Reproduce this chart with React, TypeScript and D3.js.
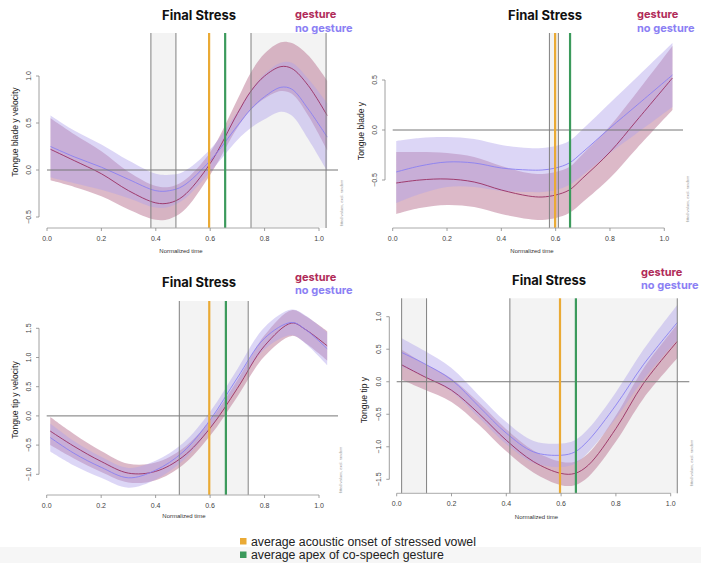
import React from "react";
import * as d3 from "d3";

// ---------- DATA ----------
const X_TICKS = [0, 0.2, 0.4, 0.6, 0.8, 1.0];

// Panel 1: Tongue blade y velocity
const P1_T = [0.013, 0.1, 0.2, 0.3, 0.4, 0.45, 0.5, 0.6, 0.7, 0.75, 0.8, 0.86, 0.9, 0.96, 1.03];
const P1_G_MEAN = [0.22, 0.1, -0.04, -0.22, -0.35, -0.35, -0.28, 0.07, 0.6, 0.84, 1.0, 1.1, 1.08, 0.9, 0.58];
const P1_G_HALF = [0.33, 0.28, 0.24, 0.2, 0.18, 0.17, 0.16, 0.12, 0.15, 0.2, 0.24, 0.26, 0.27, 0.32, 0.37];
const P1_NG_MEAN = [0.25, 0.14, 0.03, -0.1, -0.22, -0.22, -0.17, 0.1, 0.47, 0.65, 0.78, 0.88, 0.86, 0.65, 0.35];
const P1_NG_HALF = [0.33, 0.28, 0.24, 0.2, 0.18, 0.17, 0.15, 0.12, 0.15, 0.2, 0.24, 0.26, 0.28, 0.32, 0.36];
const P1_Y_TICKS = [-0.5, 0.0, 0.5, 1.0];
const P1_BOUNDS = [0.382, 0.474, 0.75, 1.026];
const P1_SHADES = [[0.382, 0.474], [0.75, 1.026]];
const P1_ONSET = 0.596;
const P1_APEX = 0.655;

// Panel 2: Tongue blade y
const P2_T = [0.013, 0.1, 0.2, 0.3, 0.4, 0.5, 0.55, 0.6, 0.65, 0.7, 0.8, 0.9, 1.03];
const P2_G_MEAN = [-0.53, -0.5, -0.49, -0.52, -0.6, -0.66, -0.67, -0.65, -0.6, -0.48, -0.22, 0.1, 0.52];
const P2_G_HALF = [0.31, 0.28, 0.26, 0.25, 0.24, 0.23, 0.23, 0.23, 0.23, 0.24, 0.26, 0.28, 0.32];
const P2_NG_MEAN = [-0.42, -0.36, -0.32, -0.33, -0.38, -0.4, -0.4, -0.38, -0.33, -0.22, 0.02, 0.25, 0.55];
const P2_NG_HALF = [0.31, 0.28, 0.25, 0.24, 0.23, 0.22, 0.22, 0.22, 0.22, 0.23, 0.25, 0.28, 0.32];
const P2_Y_TICKS = [-0.5, 0.0, 0.5];
const P2_BOUNDS = [0.577, 0.61];
const P2_SHADES = [[0.577, 0.61]];
const P2_ONSET = 0.598;
const P2_APEX = 0.653;

// Panel 3: Tongue tip y velocity
const P3_T = [0.013, 0.1, 0.2, 0.3, 0.4, 0.5, 0.6, 0.7, 0.8, 0.9, 0.95, 1.03];
const P3_G_MEAN = [-0.26, -0.52, -0.78, -0.98, -0.95, -0.7, -0.21, 0.47, 1.2, 1.59, 1.48, 1.2];
const P3_G_HALF = [0.24, 0.21, 0.18, 0.16, 0.15, 0.14, 0.13, 0.14, 0.18, 0.22, 0.23, 0.25];
const P3_NG_MEAN = [-0.37, -0.64, -0.88, -1.06, -0.93, -0.62, -0.07, 0.65, 1.33, 1.6, 1.48, 1.15];
const P3_NG_HALF = [0.24, 0.21, 0.18, 0.17, 0.16, 0.15, 0.14, 0.15, 0.19, 0.22, 0.24, 0.28];
const P3_Y_TICKS = [-1.0, -0.5, 0.0, 0.5, 1.0, 1.5];
const P3_BOUNDS = [0.487, 0.74];
const P3_SHADES = [[0.487, 0.74]];
const P3_ONSET = 0.597;
const P3_APEX = 0.658;

// Panel 4: Tongue tip y
const P4_T = [0.018, 0.1, 0.2, 0.3, 0.4, 0.5, 0.6, 0.65, 0.7, 0.8, 0.9, 1.024];
const P4_G_MEAN = [0.26, 0.08, -0.13, -0.49, -0.9, -1.23, -1.41, -1.41, -1.28, -0.72, -0.03, 0.62];
const P4_G_HALF = [0.23, 0.2, 0.18, 0.17, 0.17, 0.17, 0.18, 0.18, 0.18, 0.2, 0.23, 0.26];
const P4_NG_MEAN = [0.45, 0.28, 0.03, -0.38, -0.79, -1.08, -1.13, -1.08, -0.9, -0.36, 0.26, 0.91];
const P4_NG_HALF = [0.22, 0.2, 0.18, 0.17, 0.17, 0.17, 0.18, 0.18, 0.18, 0.2, 0.23, 0.27];
const P4_Y_TICKS = [-1.5, -1.0, -0.5, 0.0, 0.5, 1.0];
const P4_BOUNDS = [0.018, 0.109, 0.413, 1.024];
const P4_SHADES = [[0.018, 0.109], [0.413, 1.024]];
const P4_ONSET = 0.596;
const P4_APEX = 0.654;

const TITLE = "Final Stress";
const SERIES_LABELS = ["gesture", "no gesture"];
const LEGEND_ITEMS = ["average acoustic onset of stressed vowel", "average apex of co-speech gesture"];

// ---------- STYLE ----------
const C_G_FILL = "rgba(185,115,145,0.5)";
const C_NG_FILL = "rgba(173,160,234,0.43)";
const C_G_LINE = "#9a2f62";
const C_NG_LINE = "#8a80f2";
const C_G_LABEL = "#b02a58";
const C_NG_LABEL = "#8b80f4";
const C_ONSET = "#eaaa35";
const C_APEX = "#3c9a5c";
const AXIS_FONT = "'Liberation Sans', Arial, sans-serif";
const HEAD_FONT = "Inter, 'Liberation Sans', sans-serif";

type Layout = {
  x0: number; x1: number; yT0: number; yT1: number; yAxisX: number; xAxisY: number;
  top: number; right: number; ylabX: number; ylabY: number; xlabX: number; xlabY: number;
  titleX: number; titleY: number; legX: number; legY: number; sideX: number; sideY: number;
  tickLabX: number;
};

const PANELS = [
  {
    t: P1_T, gm: P1_G_MEAN, gh: P1_G_HALF, nm: P1_NG_MEAN, nh: P1_NG_HALF, yTicks: P1_Y_TICKS,
    bounds: P1_BOUNDS, shades: P1_SHADES, onset: P1_ONSET, apex: P1_APEX, ylab: "Tongue blade y velocity",
    L: { x0: 47, x1: 319, yT0: 217, yT1: 76, yAxisX: 39, xAxisY: 228, top: 33, right: 338, ylabX: 15, ylabY: 132,
      xlabX: 181, xlabY: 253, titleX: 199, titleY: 20, legX: 295, legY: 18, sideX: 343, sideY: 203, tickLabX: 31 } as Layout,
  },
  {
    t: P2_T, gm: P2_G_MEAN, gh: P2_G_HALF, nm: P2_NG_MEAN, nh: P2_NG_HALF, yTicks: P2_Y_TICKS,
    bounds: P2_BOUNDS, shades: P2_SHADES, onset: P2_ONSET, apex: P2_APEX, ylab: "Tongue blade y",
    L: { x0: 392.7, x1: 664.3, yT0: 180, yT1: 80, yAxisX: 385, xAxisY: 228, top: 33, right: 683, ylabX: 361, ylabY: 131,
      xlabX: 532, xlabY: 253, titleX: 545, titleY: 20, legX: 637, legY: 18, sideX: 689, sideY: 199, tickLabX: 377 } as Layout,
  },
  {
    t: P3_T, gm: P3_G_MEAN, gh: P3_G_HALF, nm: P3_NG_MEAN, nh: P3_NG_HALF, yTicks: P3_Y_TICKS,
    bounds: P3_BOUNDS, shades: P3_SHADES, onset: P3_ONSET, apex: P3_APEX, ylab: "Tongue tip y velocity",
    L: { x0: 46.7, x1: 319, yT0: 474.3, yT1: 328.3, yAxisX: 39, xAxisY: 495, top: 301, right: 338, ylabX: 15, ylabY: 400,
      xlabX: 184, xlabY: 518, titleX: 199, titleY: 286.5, legX: 295, legY: 280.5, sideX: 342, sideY: 470, tickLabX: 31 } as Layout,
  },
  {
    t: P4_T, gm: P4_G_MEAN, gh: P4_G_HALF, nm: P4_NG_MEAN, nh: P4_NG_HALF, yTicks: P4_Y_TICKS,
    bounds: P4_BOUNDS, shades: P4_SHADES, onset: P4_ONSET, apex: P4_APEX, ylab: "Tongue tip y",
    L: { x0: 396.7, x1: 670.7, yT0: 479.3, yT1: 316.7, yAxisX: 389.3, xAxisY: 493.3, top: 298.3, right: 689.3, ylabX: 364, ylabY: 400,
      xlabX: 536.5, xlabY: 519, titleX: 549, titleY: 285, legX: 641, legY: 275.5, sideX: 693, sideY: 463, tickLabX: 381 } as Layout,
  },
];

function Panel({ p }: { p: (typeof PANELS)[number] }) {
  const L = p.L;
  const x = d3.scaleLinear().domain([0, 1]).range([L.x0, L.x1]);
  const yt = p.yTicks;
  const y = d3.scaleLinear().domain([yt[0], yt[yt.length - 1]]).range([L.yT0, L.yT1]);
  const curve = d3.curveCatmullRom.alpha(0.5);
  const idx = p.t.map((_, i) => i);
  const band = (m: number[], h: number[]) =>
    d3.area<number>().x((i) => x(p.t[i])).y0((i) => y(m[i] - h[i])).y1((i) => y(m[i] + h[i])).curve(curve)(idx) || "";
  const line = (m: number[]) => d3.line<number>().x((i) => x(p.t[i])).y((i) => y(m[i])).curve(curve)(idx) || "";
  const fmt = d3.format(".1f");
  return (
    <g>
      {p.shades.map((s, i) => (
        <rect key={i} x={x(s[0])} y={L.top} width={x(s[1]) - x(s[0])} height={L.xAxisY - L.top} fill="#f3f3f3" />
      ))}
      <path d={band(p.gm, p.gh)} fill={C_G_FILL} />
      <path d={band(p.nm, p.nh)} fill={C_NG_FILL} />
      <path d={line(p.gm)} fill="none" stroke={C_G_LINE} strokeWidth={0.9} />
      <path d={line(p.nm)} fill="none" stroke={C_NG_LINE} strokeWidth={0.9} />
      <line x1={x(0)} x2={L.right} y1={y(0)} y2={y(0)} stroke="#777" strokeWidth={1} />
      {p.bounds.map((b, i) => (
        <line key={i} x1={x(b)} x2={x(b)} y1={L.top} y2={L.xAxisY} stroke="#808080" strokeWidth={1} />
      ))}
      <line x1={x(p.onset)} x2={x(p.onset)} y1={L.top} y2={L.xAxisY} stroke={C_ONSET} strokeWidth={2.2} />
      <line x1={x(p.apex)} x2={x(p.apex)} y1={L.top} y2={L.xAxisY} stroke={C_APEX} strokeWidth={2.2} />
      {/* x axis */}
      <line x1={x(0)} x2={x(1)} y1={L.xAxisY} y2={L.xAxisY} stroke="#aaa" strokeWidth={1} />
      {X_TICKS.map((v) => (
        <g key={v}>
          <line x1={x(v)} x2={x(v)} y1={L.xAxisY} y2={L.xAxisY + 3} stroke="#888" strokeWidth={0.8} />
          <text x={x(v)} y={L.xAxisY + 13} fontSize={7} fill="#444" textAnchor="middle" fontFamily={AXIS_FONT}>
            {fmt(v)}
          </text>
        </g>
      ))}
      {/* y axis */}
      <line x1={L.yAxisX} x2={L.yAxisX} y1={y(yt[0])} y2={y(yt[yt.length - 1])} stroke="#888" strokeWidth={0.8} />
      {yt.map((v) => (
        <g key={v}>
          <line x1={L.yAxisX - 3} x2={L.yAxisX} y1={y(v)} y2={y(v)} stroke="#888" strokeWidth={0.8} />
          <text transform={`translate(${L.tickLabX},${y(v)}) rotate(-90)`} fontSize={7} fill="#444" textAnchor="middle" fontFamily={AXIS_FONT}>
            {fmt(v)}
          </text>
        </g>
      ))}
      <text transform={`translate(${L.ylabX + 3},${L.ylabY}) rotate(-90)`} fontSize={8.6} fill="#222" textAnchor="middle" fontFamily={AXIS_FONT}>
        {p.ylab}
      </text>
      <text x={L.xlabX} y={L.xlabY} fontSize={6} fill="#333" textAnchor="middle" fontFamily={AXIS_FONT}>
        Normalized time
      </text>
      <text transform={`translate(${L.sideX},${L.sideY}) rotate(-90)`} fontSize={4} fill="#999" textAnchor="middle" fontFamily={AXIS_FONT}>
        fitted values, excl. random
      </text>
      <text x={L.titleX} y={L.titleY} fontSize={13} fontWeight="bold" fill="#111" textAnchor="middle" fontFamily={HEAD_FONT}>
        {TITLE}
      </text>
      <text x={L.legX} y={L.legY} fontSize={11} fontWeight="bold" fill={C_G_LABEL} fontFamily={HEAD_FONT}>
        {SERIES_LABELS[0]}
      </text>
      <text x={L.legX} y={L.legY + 13.5} fontSize={11} fontWeight="bold" fill={C_NG_LABEL} fontFamily={HEAD_FONT}>
        {SERIES_LABELS[1]}
      </text>
    </g>
  );
}

export default function App() {
  return (
    <svg width={701} height={563} style={{ position: "absolute", left: 0, top: 0, background: "#fff" }}>
      <rect x={0} y={0} width={701} height={563} fill="#fff" />
      {PANELS.map((p, i) => (
        <Panel key={i} p={p} />
      ))}
      <rect x={0} y={547} width={701} height={16} fill="#f6f6f6" />
      {LEGEND_ITEMS.map((t, i) => (
        <g key={i}>
          <rect x={240} y={538 + i * 13.5} width={6.5} height={6.5} fill={i === 0 ? C_ONSET : C_APEX} />
          <text x={251} y={545.5 + i * 13.5} fontSize={12.3} fill="#222" fontFamily="'Liberation Sans', Arial, sans-serif">
            {t}
          </text>
        </g>
      ))}
    </svg>
  );
}
